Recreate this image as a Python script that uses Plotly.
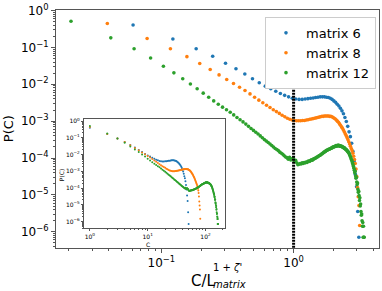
import plotly.graph_objects as go

# ---------------- data ----------------
series_names = ["matrix 6", "matrix 8", "matrix 12"]
matrix_sizes = [6, 8, 12]
zeta_prime = 0.56
series_colors = ["#1f77b4", "#ff7f0e", "#2ca02c"]

# log10 P(C) for C = 1, 2, 3, ...
log10_p_matrix6 = [
    -0.39, -0.77, -1.035, -1.24, -1.43, -1.58, -1.72, -1.85, -1.96, -2.05,
    -2.12, -2.19, -2.25, -2.30, -2.34, -2.38, -2.40, -2.41, -2.41, -2.40,
    -2.39, -2.38, -2.37, -2.36, -2.35, -2.34, -2.34, -2.34, -2.35, -2.36,
    -2.38, -2.41, -2.45, -2.49, -2.54, -2.59, -2.65, -2.72, -2.80, -2.90,
    -3.01, -3.14, -3.29, -3.42, -3.60, -3.82, -4.08, -4.44, -4.78, -5.45, -6.15]

log10_p_matrix8 = [
    -0.35, -0.76, -1.035, -1.25, -1.435, -1.60, -1.745, -1.87, -1.98, -2.08,
    -2.17, -2.26, -2.35, -2.43, -2.50, -2.57, -2.63, -2.69, -2.74, -2.79,
    -2.84, -2.88, -2.92, -2.95, -2.97, -2.98, -2.99, -2.99, -2.99, -2.98,
    -2.98, -2.97, -2.96, -2.95, -2.94, -2.93, -2.92, -2.91, -2.90, -2.89,
    -2.88, -2.87, -2.87, -2.86, -2.86, -2.86, -2.86, -2.87, -2.87, -2.88,
    -2.90, -2.92, -2.94, -2.97, -3.00, -3.03, -3.07, -3.11, -3.15, -3.19,
    -3.24, -3.29, -3.34, -3.39, -3.44, -3.50, -3.56, -3.62, -3.68, -3.74,
    -3.80, -3.87, -3.95, -4.04, -4.15, -4.30, -4.50, -4.80, -5.05, -5.29, -5.83]

log10_p_matrix12 = [
    -0.29, -0.74, -1.035, -1.285, -1.51, -1.69, -1.85, -1.99, -2.12, -2.24,
    -2.35, -2.45, -2.54, -2.62, -2.69, -2.76, -2.83, -2.90, -2.96, -3.02,
    -3.08, -3.14, -3.20, -3.25, -3.30, -3.35, -3.40, -3.45, -3.50, -3.54,
    -3.58, -3.62, -3.66, -3.70, -3.74, -3.77, -3.80, -3.84, -3.87, -3.90,
    -3.94, -3.97, -3.99, -4.03, -3.98, -4.05, -4.02, -4.00, -4.09, -4.06,
    -4.13, -4.18, -4.17, -4.15, -4.16, -4.13, -4.15, -4.12, -4.13, -4.11,
    -4.12, -4.09, -4.08, -4.09, -4.06, -4.05, -4.06, -4.03, -4.02, -4.01,
    -4.00, -3.98, -3.97, -3.96, -3.94, -3.93, -3.92, -3.90, -3.89, -3.87,
    -3.86, -3.84, -3.83, -3.82, -3.80, -3.79, -3.79, -3.77, -3.76, -3.76,
    -3.75, -3.74, -3.73, -3.73, -3.71, -3.70, -3.70, -3.69, -3.69, -3.68,
    -3.66, -3.68, -3.66, -3.67, -3.65, -3.67, -3.66, -3.68, -3.67, -3.68,
    -3.69, -3.68, -3.70, -3.71, -3.71, -3.73, -3.72, -3.74, -3.76, -3.76,
    -3.78, -3.79, -3.81, -3.82, -3.84, -3.86, -3.88, -3.91, -3.94, -3.97,
    -4.00, -4.04, -4.07, -4.11, -4.15, -4.19, -4.23, -4.28, -4.33, -4.40,
    -4.36, -4.48, -4.55, -4.52, -4.65, -4.72, -4.68, -4.85, -4.93, -4.90,
    -5.02, -5.15, -5.08, -5.30, -5.25, -5.45, -5.55, -5.52, -5.70, -5.85,
    -5.75, -6.15, -5.85, -6.15, -6.15]

log10_p_series = [log10_p_matrix6, log10_p_matrix8, log10_p_matrix12]

# vertical reference line at C / L^(1+zeta') = 1
vline_x = [1.0, 1.0]
vline_y = [1e-7, 1.3e-2]

main_y_ticks = [1e-6, 1e-5, 1e-4, 1e-3, 1e-2, 1e-1, 1]
main_y_ticktext = ["10<sup>−6</sup>", "10<sup>−5</sup>", "10<sup>−4</sup>", "10<sup>−3</sup>",
                   "10<sup>−2</sup>", "10<sup>−1</sup>", "10<sup>0</sup>"]
main_x_ticks = [0.1, 1]
main_x_ticktext = ["10<sup>−1</sup>", "10<sup>0</sup>"]
inset_x_ticks = [1, 10, 100]
inset_x_ticktext = ["10<sup>0</sup>", "10<sup>1</sup>", "10<sup>2</sup>"]

# ---------------- figure ----------------
FONT = "DejaVu Sans"
AX = "#555555"

fig = go.Figure()
for name, L, logp, col in zip(series_names, matrix_sizes, log10_p_series, series_colors):
    C = list(range(1, len(logp) + 1))
    P = [10 ** v for v in logp]
    scale = L ** (1 + zeta_prime)
    fig.add_trace(go.Scatter(
        x=[c / scale for c in C], y=P, mode="markers", name=name,
        marker=dict(color=col, size=3.6, line=dict(width=0)),
        xaxis="x", yaxis="y"))
    fig.add_trace(go.Scatter(
        x=C, y=P, mode="markers", showlegend=False,
        marker=dict(color=col, size=2.0, line=dict(width=0)),
        xaxis="x2", yaxis="y2"))

fig.add_trace(go.Scatter(
    x=vline_x, y=vline_y, mode="lines", showlegend=False,
    line=dict(color="black", width=3, dash="2px,1px"),
    xaxis="x", yaxis="y"))

def minor_vals(lo, hi):
    return [k * 10 ** e for e in range(lo, hi) for k in range(2, 10)]

common = dict(type="log", showline=True, mirror=True, linecolor=AX, linewidth=1,
              ticks="outside", tickcolor=AX, showgrid=False, zeroline=False,
              tickmode="array", ticklabeloverflow="allow")

fig.update_layout(
    width=382, height=291,
    margin=dict(l=56, r=2, t=6, b=43),
    paper_bgcolor="white", plot_bgcolor="white",
    font=dict(family=FONT, color="black"),
    xaxis=dict(common, domain=[0, 1], range=[-1.797, 0.646], anchor="y",
               tickvals=main_x_ticks, ticktext=main_x_ticktext, ticklen=4,
               tickfont=dict(size=12),
               minor=dict(ticks="outside", ticklen=2, tickcolor=AX, tickvals=minor_vals(-2, 1))),
    yaxis=dict(common, domain=[0, 1], range=[-6.44, 0.015], anchor="x",
               tickvals=main_y_ticks, ticktext=main_y_ticktext, ticklen=4,
               tickfont=dict(size=12),
               minor=dict(ticks="outside", ticklen=2, tickcolor=AX, tickvals=minor_vals(-7, 1))),
    xaxis2=dict(common, domain=[0.0864, 0.5247], range=[-0.103, 2.345], anchor="y2",
                tickvals=inset_x_ticks, ticktext=inset_x_ticktext, ticklen=2,
                tickfont=dict(size=6),
                minor=dict(ticks="outside", ticklen=1, tickcolor=AX, tickvals=minor_vals(0, 3))),
    yaxis2=dict(common, domain=[0.0826, 0.5434], range=[-6.41, 0.15], anchor="x2",
                tickvals=main_y_ticks, ticktext=main_y_ticktext, ticklen=2,
                tickfont=dict(size=6),
                minor=dict(ticks="outside", ticklen=1, tickcolor=AX, tickvals=minor_vals(-7, 1))),
    legend=dict(x=0.9907, xanchor="right", y=0.971, yanchor="top",
                bgcolor="white", bordercolor="#cccccc", borderwidth=1,
                font=dict(size=13, family=FONT)),
    showlegend=True,
)

def px(xp):
    return (xp - 56) / 324.0

def py(yp):
    return (248 - yp) / 242.0

ann = [
    dict(text="P(C)", x=px(8), y=py(127), textangle=-90, font=dict(size=13)),
    dict(text="C/L", x=px(204), y=py(282), font=dict(size=15)),
    dict(text="1 + <i>ζ'</i>", x=px(228), y=py(268), font=dict(size=10)),
    dict(text="<i>matrix</i>", x=px(230), y=py(285.5), font=dict(size=10)),
    dict(text="P(C)", x=px(61), y=py(173), textangle=-90, font=dict(size=6)),
    dict(text="C", x=px(148), y=py(244), font=dict(size=6)),
]
for a in ann:
    fig.add_annotation(xref="paper", yref="paper", showarrow=False,
                       xanchor="center", yanchor="middle", **a)

fig.write_html("out.html",
               config={"displayModeBar": False},
               post_script="document.body.style.margin='0';document.body.style.padding='0';")
